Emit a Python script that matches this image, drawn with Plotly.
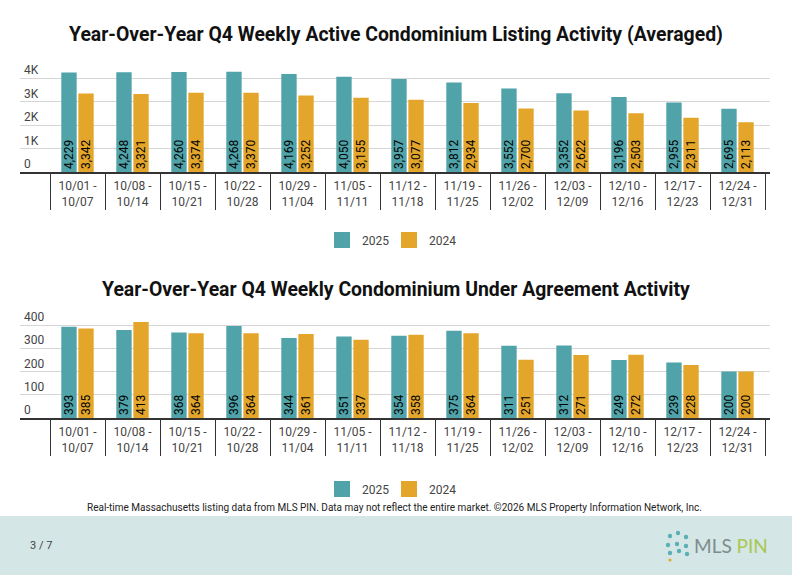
import plotly.graph_objects as go

weeks = ["10/01 -<br>10/07", "10/08 -<br>10/14", "10/15 -<br>10/21", "10/22 -<br>10/28",
         "10/29 -<br>11/04", "11/05 -<br>11/11", "11/12 -<br>11/18", "11/19 -<br>11/25",
         "11/26 -<br>12/02", "12/03 -<br>12/09", "12/10 -<br>12/16", "12/17 -<br>12/23",
         "12/24 -<br>12/31"]

active_2025 = [4229, 4248, 4260, 4268, 4169, 4050, 3957, 3812, 3552, 3352, 3196, 2955, 2695]
active_2024 = [3342, 3321, 3374, 3370, 3252, 3155, 3077, 2934, 2700, 2622, 2503, 2311, 2113]

ua_2025 = [393, 379, 368, 396, 344, 351, 354, 375, 311, 312, 249, 239, 200]
ua_2024 = [385, 413, 364, 364, 361, 337, 358, 364, 251, 271, 272, 228, 200]

active_ticks = [0, 1000, 2000, 3000, 4000]
active_ticktext = ["0", "1K", "2K", "3K", "4K"]
ua_ticks = [0, 100, 200, 300, 400]

series_names = ["2025", "2024"]
TEAL = "#4FA3A9"
GOLD = "#E4A62A"
FONT = "Roboto"

fig = go.Figure()

def add_bars(vals, name, color, xa, ya):
    fig.add_trace(go.Bar(
        x=weeks, y=vals, name=name, marker=dict(color=color, line=dict(width=0)),
        xaxis=xa, yaxis=ya, showlegend=False,
        texttemplate="%{y:,}", textposition="inside", insidetextanchor="start",
        textangle=-90, textfont=dict(color="#000000", size=12, family=FONT),
        constraintext="none", hoverinfo="x+y+name",
    ))

def add_legend_key(name, color, xa, ya, legend):
    fig.add_trace(go.Scatter(
        x=[None], y=[None], name=name, mode="markers",
        marker=dict(symbol="square", size=16, color=color),
        xaxis=xa, yaxis=ya, legend=legend, showlegend=True,
    ))

add_bars(active_2025, series_names[0], TEAL, "x", "y")
add_bars(active_2024, series_names[1], GOLD, "x", "y")
add_bars(ua_2025, series_names[0], TEAL, "x2", "y2")
add_bars(ua_2024, series_names[1], GOLD, "x2", "y2")
add_legend_key(series_names[0], TEAL, "x", "y", "legend")
add_legend_key(series_names[1], GOLD, "x", "y", "legend")
add_legend_key(series_names[0], TEAL, "x2", "y2", "legend2")
add_legend_key(series_names[1], GOLD, "x2", "y2", "legend2")

W, H = 792, 575
def py(px):
    return 1 - px / H

xdom = [20 / W, 770 / W]
xrange = [-0.5 - 30 / 55, 12.5 + 5 / 55]

xaxis_common = dict(
    type="category", range=xrange, domain=xdom,
    showline=True, linecolor="#333333", linewidth=2,
    ticks="outside", tickson="boundaries", ticklen=36, tickwidth=1.3, tickcolor="#333333",
    tickfont=dict(size=12, color="#444444", family=FONT),
    ticklabelstandoff=2, showgrid=False, fixedrange=True, automargin=False,
)
yaxis_common = dict(
    showgrid=True, gridcolor="#D6D6D6", gridwidth=1, zeroline=False,
    ticklabelposition="inside", ticklabelshift=-8, ticklabelstandoff=1,
    ticklabeloverflow="allow",
    tickfont=dict(size=12, color="#444444", family=FONT), ticks="",
    showline=False, fixedrange=True, automargin=False,
)

legend_common = dict(
    orientation="h", xanchor="center", yanchor="middle",
    font=dict(size=12, color="#444444", family=FONT),
    traceorder="normal", itemclick=False, itemdoubleclick=False,
    entrywidth=22, entrywidthmode="pixels",
)

fig.update_layout(
    width=W, height=H, margin=dict(l=0, r=0, t=0, b=0),
    paper_bgcolor="white", plot_bgcolor="white",
    font=dict(family=FONT, color="#444444"),
    barmode="group", bargap=0.38, bargroupgap=0.1,
    xaxis=dict(**xaxis_common, anchor="y"),
    yaxis=dict(**yaxis_common, anchor="x", domain=[py(172), py(172 - 4400 * 0.0235)],
               range=[0, 4400], tickvals=active_ticks, ticktext=active_ticktext),
    xaxis2=dict(**xaxis_common, anchor="y2"),
    yaxis2=dict(**yaxis_common, anchor="x2", domain=[py(418), py(418 - 440 * 0.2325)],
                range=[0, 440], tickvals=ua_ticks),
    legend=dict(**legend_common, x=389 / W, y=py(240)),
    legend2=dict(**legend_common, x=389 / W, y=py(489)),
    showlegend=True,
)

annotations = [
    dict(text="<b>Year-Over-Year Q4 Weekly Active Condominium Listing Activity (Averaged)</b>",
         x=396 / W, y=py(35), xref="paper", yref="paper", showarrow=False,
         font=dict(size=19.4, color="#111111", family=FONT), xanchor="center", yanchor="middle"),
    dict(text="<b>Year-Over-Year Q4 Weekly Condominium Under Agreement Activity</b>",
         x=396 / W, y=py(289), xref="paper", yref="paper", showarrow=False,
         font=dict(size=19.4, color="#111111", family=FONT), xanchor="center", yanchor="middle"),
    dict(text="Real-time Massachusetts listing data from MLS PIN. Data may not reflect the entire market. ©2026 MLS Property Information Network, Inc.",
         x=394 / W, y=py(507), xref="paper", yref="paper", showarrow=False,
         font=dict(size=10, color="#222222", family=FONT), xanchor="center", yanchor="middle"),
    dict(text="3 / 7", x=28 / W, y=py(545), xref="paper", yref="paper", showarrow=False,
         font=dict(size=11, color="#444444", family=FONT), xanchor="left", yanchor="middle"),
    dict(text="<span style='color:#7E8C8C'>MLS</span> <span style='color:#A9C852'>PIN</span>",
         x=692 / W, y=py(545), xref="paper", yref="paper", showarrow=False,
         font=dict(size=19, family="Lato"), xanchor="left", yanchor="middle"),
]
fig.update_layout(annotations=annotations)

shapes = [
    dict(type="rect", xref="paper", yref="paper", x0=0, x1=1, y0=0, y1=py(516),
         fillcolor="#D4E6E6", line=dict(width=0), layer="below"),
]
# small decorative logo icon
for cx, cy in [(670, 536), (678, 533), (686, 537), (668, 545), (677, 544), (686, 546),
               (670, 553), (679, 551), (687, 554)]:
    shapes.append(dict(type="circle", xref="paper", yref="paper",
                       x0=(cx - 2.2) / W, x1=(cx + 2.2) / W, y0=py(cy + 2.2), y1=py(cy - 2.2),
                       fillcolor="#5BB0B5", line=dict(width=0)))
shapes.append(dict(type="circle", xref="paper", yref="paper",
                   x0=(670 - 1.5) / W, x1=(670 + 1.5) / W, y0=py(560 + 1.5), y1=py(560 - 1.5),
                   fillcolor="#E4A62A", line=dict(width=0)))
fig.update_layout(shapes=shapes)

fig.write_html("out.html", config={"displayModeBar": False},
               post_script="document.body.style.margin='0';document.body.style.overflow='hidden';")
